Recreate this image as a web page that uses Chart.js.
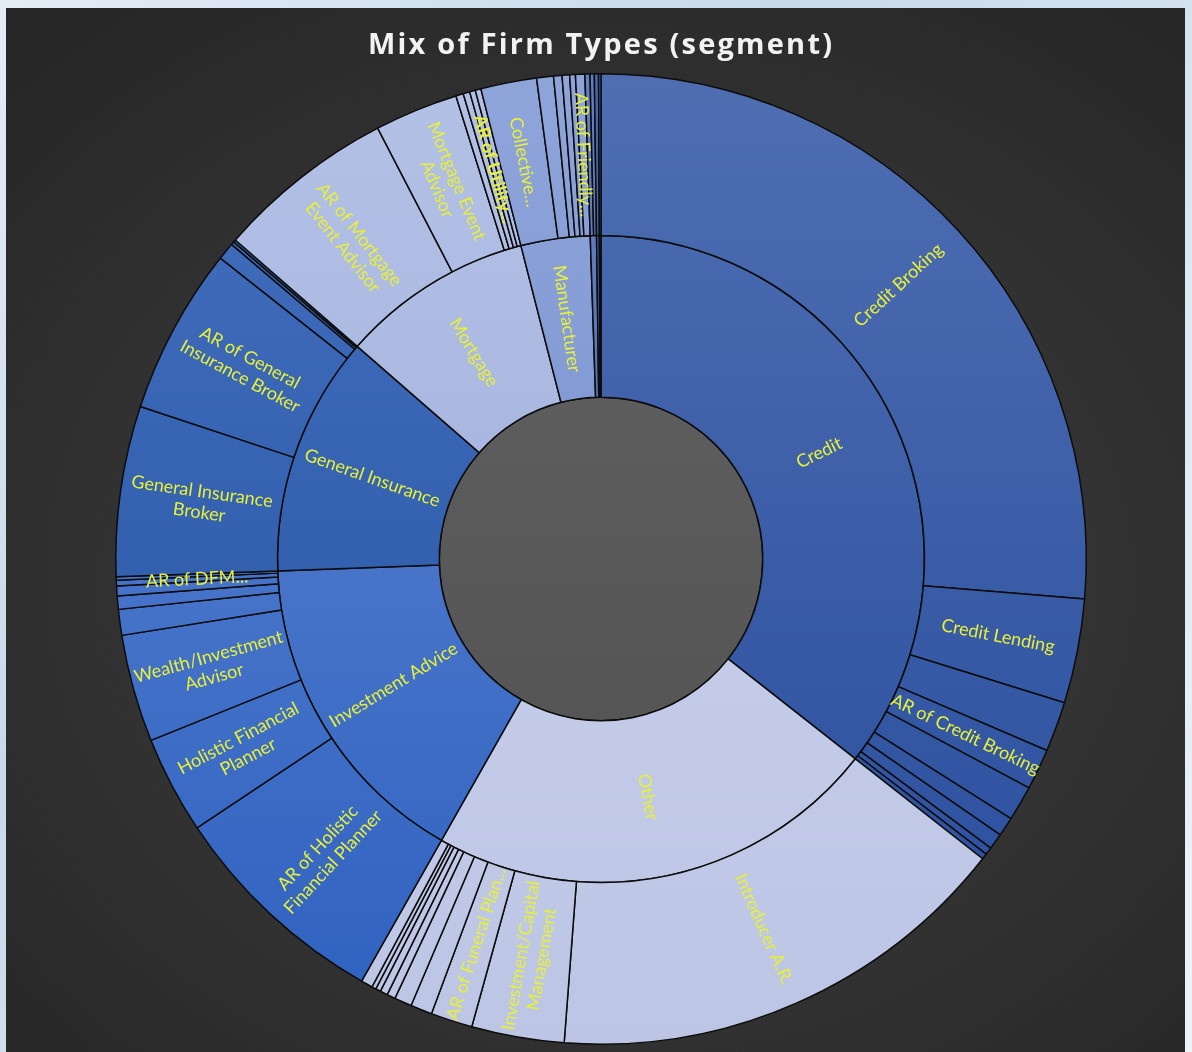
<!DOCTYPE html>
<html>
<head>
<meta charset="utf-8">
<title>Mix of Firm Types (segment)</title>
<script src="https://cdn.jsdelivr.net/npm/chart.js@4.4.1/dist/chart.umd.min.js"></script>
<style>
  html, body { margin: 0; padding: 0; }
  body {
    width: 1192px; height: 1052px; overflow: hidden; position: relative;
    background: linear-gradient(135deg, #e4edf6 0%, #c8d9ea 35%, #dce8f3 65%, #eef3f8 100%);
  }
  #panel {
    position: absolute; left: 6px; top: 8px; width: 1179px; height: 1044px;
    background: radial-gradient(ellipse 75% 70% at 52% 55%, #3e3e3e 0%, #353535 45%, #262626 100%);
  }
  #chart { position: absolute; left: 0; top: 0; }
</style>
</head>
<body>
<div id="panel"></div>
<canvas id="chart" width="1192" height="1052"></canvas>
<script>
// Inner ring: firm segments
const segmentNames = ['Credit', 'Other', 'Investment Advice', 'General Insurance', 'Mortgage', 'Manufacturer', '', '', ''];

// Outer ring: firm types (share of firms, %), with the segment each belongs to
const typeNames = [
  'Credit Broking', 'Credit Lending', '', 'AR of Credit Broking', '', '', '', '', '',
  'Introducer A.R.', 'Investment/Capital\nManagement', 'AR of Funeral Plan...', '', '', '', '', '', '', '',
  'AR of Holistic\nFinancial Planner', 'Holistic Financial\nPlanner', 'Wealth/Investment\nAdvisor', '', '', '', 'AR of DFM...', '',
  'General Insurance\nBroker', 'AR of General\nInsurance Broker', '', '', '',
  'AR of Mortgage\nEvent Advisor', 'Mortgage Event\nAdvisor', '', '', 'AR of Utility...', '',
  'Collective...', '', '', '', '', 'AR of Friendly...',
  '', '',
  '',
  ''
];
const typeShares = [
  26.31, 3.47, 1.67, 1.36, 1.17, 0.64, 0.53, 0.25, 0.19,
  15.61, 3.08, 1.39, 0.72, 0.58, 0.28, 0.25, 0.17, 0.14, 0.39,
  7.44, 3.25, 3.58, 0.86, 0.44, 0.33, 0.19, 0.11,
  5.67, 5.56, 0.58, 0.11, 0.08,
  5.97, 2.78, 0.25, 0.22, 0.19, 0.19,
  1.86, 0.56, 0.28, 0.25, 0.19, 0.31,
  0.17, 0.14,
  0.14,
  0.08
];
const typeSegment = [
  0, 0, 0, 0, 0, 0, 0, 0, 0,
  1, 1, 1, 1, 1, 1, 1, 1, 1, 1,
  2, 2, 2, 2, 2, 2, 2, 2,
  3, 3, 3, 3, 3,
  4, 4, 4, 4, 4, 4,
  5, 5, 5, 5, 5, 5,
  6, 6,
  7,
  8
];

// Segment totals are the sums of their firm types
const segmentShares = segmentNames.map((_, s) =>
  typeShares.reduce((sum, v, i) => sum + (typeSegment[i] === s ? v : 0), 0));

// Vertical shading per segment: [top, bottom]
const segmentShade = [
  ['#4f6eb2', '#274c9d'],
  ['#ced5ee', '#bcc5e4'],
  ['#6289d4', '#2d60bf'],
  ['#4570c0', '#22509f'],
  ['#b4c1e6', '#9aa9d8'],
  ['#8fa5da', '#6c87c9'],
  ['#6580c0', '#4663a8'],
  ['#4767ae', '#33559f'],
  ['#3a5ca8', '#2c52a0']
];

const gradCache = {};
function shadeFor(chart, s) {
  const area = chart.chartArea;
  if (!area) return segmentShade[s][1];
  const key = s + ':' + area.top + ':' + area.bottom;
  if (!gradCache[key]) {
    const g = chart.ctx.createLinearGradient(0, area.top, 0, area.bottom);
    g.addColorStop(0, segmentShade[s][0]);
    g.addColorStop(1, segmentShade[s][1]);
    gradCache[key] = g;
  }
  return gradCache[key];
}

// Grey centre disc
const centreDisc = {
  id: 'centreDisc',
  beforeDatasetsDraw(chart) {
    const meta = chart.getDatasetMeta(1);
    const arc = meta.data[0];
    if (!arc) return;
    const { x, y, innerRadius } = arc.getProps(['x', 'y', 'innerRadius'], true);
    const c = chart.ctx;
    c.save();
    const g = c.createLinearGradient(0, y - innerRadius, 0, y + innerRadius);
    g.addColorStop(0, '#5d5d5d');
    g.addColorStop(1, '#555555');
    c.beginPath();
    c.arc(x, y, innerRadius, 0, Math.PI * 2);
    c.fillStyle = g;
    c.fill();
    c.lineWidth = 1.5;
    c.strokeStyle = '#0d0d0d';
    c.stroke();
    c.restore();
  }
};

// Radial slice labels
const sliceLabels = {
  id: 'sliceLabels',
  afterDatasetsDraw(chart) {
    const c = chart.ctx;
    chart.data.datasets.forEach((ds, di) => {
      const meta = chart.getDatasetMeta(di);
      meta.data.forEach((arc, i) => {
        const text = ds.sliceText[i];
        if (!text) return;
        const p = arc.getProps(['x', 'y', 'startAngle', 'endAngle', 'innerRadius', 'outerRadius'], true);
        const mid = (p.startAngle + p.endAngle) / 2;
        const r = (p.innerRadius + p.outerRadius) / 2;
        const px = p.x + Math.cos(mid) * r;
        const py = p.y + Math.sin(mid) * r;
        let rot = mid;
        if (Math.cos(mid) < 0) rot += Math.PI;
        const lines = text.split('\n');
        const lh = 21;
        c.save();
        c.translate(px, py);
        c.rotate(rot);
        c.font = (ds.boldText && ds.boldText.includes(i) ? 'bold ' : '') + '18px Lato, "Open Sans", sans-serif';
        c.fillStyle = '#e6f03a';
        c.textAlign = 'center';
        c.textBaseline = 'middle';
        lines.forEach((ln, k) => {
          c.fillText(ln, 0, (k - (lines.length - 1) / 2) * lh);
        });
        c.restore();
      });
    });
  }
};

// Heading
const heading = {
  id: 'heading',
  afterDraw(chart) {
    const c = chart.ctx;
    const txt = 'Mix of Firm Types (segment)';
    c.save();
    c.font = 'bold 29px "Open Sans", sans-serif';
    c.fillStyle = '#f2f2f2';
    c.textBaseline = 'alphabetic';
    c.textAlign = 'left';
    const plain = c.measureText(txt).width;
    const targetW = 464;
    const gap = Math.max(0, (targetW - plain) / (txt.length - 1));
    let x = 600 - targetW / 2;
    for (const ch of txt) {
      c.fillText(ch, x, 54);
      x += c.measureText(ch).width + gap;
    }
    c.restore();
  }
};

new Chart(document.getElementById('chart'), {
  type: 'doughnut',
  data: {
    labels: typeNames,
    datasets: [
      {
        data: typeShares,
        sliceText: typeNames,
        boldText: [typeNames.indexOf('AR of Utility...')],
        backgroundColor: (ctx) => shadeFor(ctx.chart, typeSegment[ctx.dataIndex]),
        borderColor: '#0c0c0c',
        borderWidth: 1.5
      },
      {
        data: segmentShares,
        sliceText: segmentNames,
        backgroundColor: (ctx) => shadeFor(ctx.chart, ctx.dataIndex),
        borderColor: '#0c0c0c',
        borderWidth: 1.5
      }
    ]
  },
  options: {
    responsive: false,
    animation: false,
    cutout: '33.33%',
    rotation: 0,
    circumference: 360,
    layout: { padding: { left: 115, right: 105, top: 72, bottom: 6 } },
    plugins: {
      legend: { display: false },
      tooltip: { enabled: false },
      title: { display: false }
    }
  },
  plugins: [centreDisc, sliceLabels, heading]
});
</script>
</body>
</html>
